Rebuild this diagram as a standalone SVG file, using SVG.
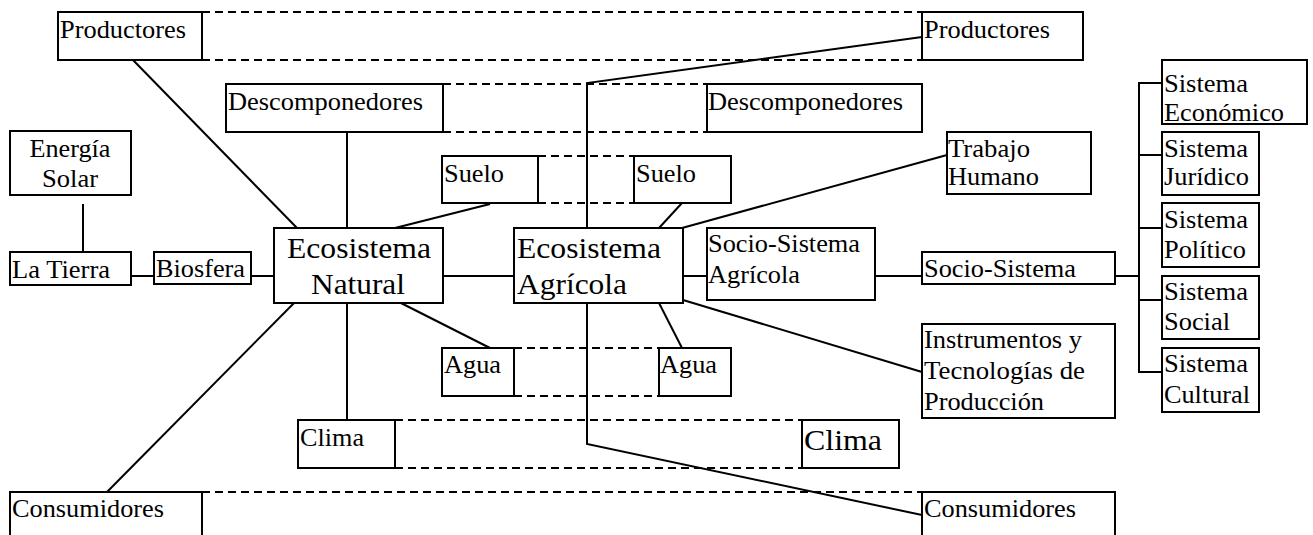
<svg xmlns="http://www.w3.org/2000/svg" width="1313" height="535" viewBox="0 0 1313 535">
<style>
rect{fill:#fff;stroke:#000;stroke-width:2}
.c line,.c polyline{stroke:#000;stroke-width:2;fill:none}
.c .d{stroke-dasharray:8,5}
text{font-family:"Liberation Serif","Times New Roman",serif;font-size:25px;fill:#000}
.big{font-size:28.5px}
.m{text-anchor:middle}
</style>
<rect x="0" y="0" width="1313" height="535" style="stroke:none"/>
<g class="c" id="connectors">
<line class="d" x1="202" y1="12" x2="922" y2="12"/>
<line class="d" x1="202" y1="60" x2="922" y2="60"/>
<line class="d" x1="443" y1="84" x2="707" y2="84"/>
<line class="d" x1="443" y1="132" x2="707" y2="132"/>
<line class="d" x1="538" y1="156" x2="634" y2="156"/>
<line class="d" x1="538" y1="203" x2="634" y2="203"/>
<line class="d" x1="514" y1="348" x2="659" y2="348"/>
<line class="d" x1="514" y1="396" x2="659" y2="396"/>
<line class="d" x1="395" y1="420" x2="802" y2="420"/>
<line class="d" x1="395" y1="468" x2="802" y2="468"/>
<line class="d" x1="202" y1="492" x2="922" y2="492"/>
<line x1="83" y1="204" x2="83" y2="252"/>
<line x1="131" y1="276" x2="154" y2="276"/>
<line x1="251" y1="276" x2="274" y2="276"/>
<line x1="133" y1="60" x2="297" y2="228"/>
<line x1="347" y1="132" x2="347" y2="228"/>
<line x1="490" y1="204" x2="395" y2="228"/>
<line x1="443" y1="276" x2="514" y2="276"/>
<line x1="297" y1="300" x2="107" y2="492"/>
<line x1="347" y1="303" x2="347" y2="420"/>
<line x1="395" y1="300" x2="490" y2="348"/>
<polyline points="587,228 587,83 922,37"/>
<line x1="682" y1="203" x2="659" y2="228"/>
<line x1="682" y1="228" x2="947" y2="155"/>
<line x1="683" y1="276" x2="707" y2="276"/>
<line x1="659" y1="303" x2="682" y2="348"/>
<line x1="683" y1="300" x2="922" y2="372"/>
<polyline points="587,303 587,444 922,515"/>
<line x1="875" y1="276" x2="922" y2="276"/>
<line x1="1115" y1="276" x2="1139" y2="276"/>
<polyline points="1162,83 1139,83 1139,372 1162,372"/>
<line x1="1139" y1="155" x2="1162" y2="155"/>
<line x1="1139" y1="228" x2="1162" y2="228"/>
<line x1="1139" y1="300" x2="1162" y2="300"/>
</g>
<g id="productores-l"><rect x="58" y="12" width="144" height="48"/><text x="60" y="38" textLength="126" lengthAdjust="spacingAndGlyphs">Productores</text></g>
<g id="productores-r"><rect x="922" y="12" width="161" height="48"/><text x="924" y="38" textLength="126" lengthAdjust="spacingAndGlyphs">Productores</text></g>
<g id="descomponedores-l"><rect x="226" y="84" width="217" height="48"/><text x="228" y="110" textLength="195" lengthAdjust="spacingAndGlyphs">Descomponedores</text></g>
<g id="descomponedores-r"><rect x="707" y="84" width="215" height="48"/><text x="708" y="110" textLength="195" lengthAdjust="spacingAndGlyphs">Descomponedores</text></g>
<g id="energia-solar"><rect x="10" y="131" width="121" height="64"/><text class="m" x="70" y="157" textLength="81" lengthAdjust="spacingAndGlyphs">Energía</text><text class="m" x="70" y="187" textLength="56" lengthAdjust="spacingAndGlyphs">Solar</text></g>
<g id="la-tierra"><rect x="10" y="252" width="121" height="33"/><text x="12" y="278" textLength="98" lengthAdjust="spacingAndGlyphs">La Tierra</text></g>
<g id="biosfera"><rect x="154" y="252" width="97" height="32"/><text x="156" y="277" textLength="89" lengthAdjust="spacingAndGlyphs">Biosfera</text></g>
<g id="suelo-l"><rect x="442" y="156" width="96" height="47"/><text x="444" y="182" textLength="60" lengthAdjust="spacingAndGlyphs">Suelo</text></g>
<g id="suelo-r"><rect x="634" y="156" width="97" height="47"/><text x="636" y="182" textLength="60" lengthAdjust="spacingAndGlyphs">Suelo</text></g>
<g id="ecosistema-natural"><rect x="274" y="228" width="169" height="75"/><text class="big m" x="359" y="258" textLength="144" lengthAdjust="spacingAndGlyphs">Ecosistema</text><text class="big m" x="358" y="294" textLength="94" lengthAdjust="spacingAndGlyphs">Natural</text></g>
<g id="ecosistema-agricola"><rect x="514" y="228" width="169" height="75"/><text class="big" x="517" y="258" textLength="144" lengthAdjust="spacingAndGlyphs">Ecosistema</text><text class="big" x="517" y="294" textLength="110" lengthAdjust="spacingAndGlyphs">Agrícola</text></g>
<g id="socio-sistema-agricola"><rect x="707" y="228" width="168" height="72"/><text x="708" y="252" textLength="152" lengthAdjust="spacingAndGlyphs">Socio-Sistema</text><text x="708" y="283" textLength="92" lengthAdjust="spacingAndGlyphs">Agrícola</text></g>
<g id="socio-sistema"><rect x="922" y="252" width="193" height="32"/><text x="924" y="277" textLength="152" lengthAdjust="spacingAndGlyphs">Socio-Sistema</text></g>
<g id="trabajo-humano"><rect x="947" y="132" width="144" height="62"/><text x="948" y="157" textLength="82" lengthAdjust="spacingAndGlyphs">Trabajo</text><text x="948" y="185" textLength="91" lengthAdjust="spacingAndGlyphs">Humano</text></g>
<g id="agua-l"><rect x="442" y="348" width="72" height="48"/><text x="444" y="373" textLength="57" lengthAdjust="spacingAndGlyphs">Agua</text></g>
<g id="agua-r"><rect x="659" y="348" width="72" height="48"/><text x="660" y="373" textLength="57" lengthAdjust="spacingAndGlyphs">Agua</text></g>
<g id="instrumentos"><rect x="922" y="324" width="193" height="94"/><text x="924" y="348" textLength="158" lengthAdjust="spacingAndGlyphs">Instrumentos y</text><text x="924" y="379" textLength="161" lengthAdjust="spacingAndGlyphs">Tecnologías de</text><text x="924" y="410" textLength="120" lengthAdjust="spacingAndGlyphs">Producción</text></g>
<g id="clima-l"><rect x="298" y="420" width="97" height="48"/><text x="300" y="446" textLength="64" lengthAdjust="spacingAndGlyphs">Clima</text></g>
<g id="clima-r"><rect x="802" y="420" width="97" height="48"/><text class="big" x="804" y="450" textLength="78" lengthAdjust="spacingAndGlyphs">Clima</text></g>
<g id="consumidores-l"><rect x="10" y="492" width="192" height="60"/><text x="12" y="517" textLength="152" lengthAdjust="spacingAndGlyphs">Consumidores</text></g>
<g id="consumidores-r"><rect x="922" y="492" width="193" height="60"/><text x="924" y="517" textLength="152" lengthAdjust="spacingAndGlyphs">Consumidores</text></g>
<g id="sistema-economico"><rect x="1162" y="60" width="145" height="64"/><text x="1164" y="92" textLength="84" lengthAdjust="spacingAndGlyphs">Sistema</text><text x="1164" y="121" textLength="120" lengthAdjust="spacingAndGlyphs">Económico</text></g>
<g id="sistema-juridico"><rect x="1162" y="132" width="97" height="63"/><text x="1164" y="157" textLength="84" lengthAdjust="spacingAndGlyphs">Sistema</text><text x="1164" y="185" textLength="85" lengthAdjust="spacingAndGlyphs">Jurídico</text></g>
<g id="sistema-politico"><rect x="1162" y="203" width="97" height="64"/><text x="1164" y="228" textLength="84" lengthAdjust="spacingAndGlyphs">Sistema</text><text x="1164" y="258" textLength="82" lengthAdjust="spacingAndGlyphs">Político</text></g>
<g id="sistema-social"><rect x="1162" y="276" width="97" height="63"/><text x="1164" y="300" textLength="84" lengthAdjust="spacingAndGlyphs">Sistema</text><text x="1164" y="330" textLength="66" lengthAdjust="spacingAndGlyphs">Social</text></g>
<g id="sistema-cultural"><rect x="1162" y="348" width="97" height="64"/><text x="1164" y="372" textLength="84" lengthAdjust="spacingAndGlyphs">Sistema</text><text x="1164" y="403" textLength="86" lengthAdjust="spacingAndGlyphs">Cultural</text></g>
</svg>
